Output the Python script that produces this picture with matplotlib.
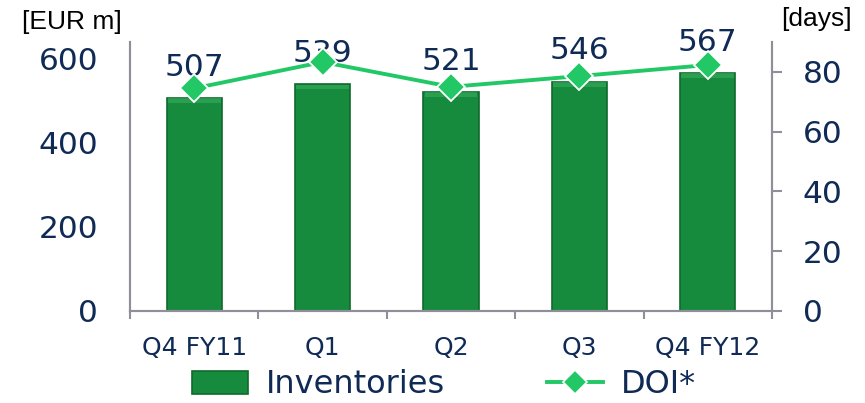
import matplotlib
matplotlib.use("Agg")
import matplotlib.pyplot as plt
import numpy as np
from matplotlib.lines import Line2D
from matplotlib.patches import Patch

categories = ["Q4 FY11", "Q1", "Q2", "Q3", "Q4 FY12"]
inventories = [507, 539, 521, 546, 567]
doi = [74.5, 83.3, 75.0, 78.6, 82.3]
left_ticks = [0, 200, 400, 600]
right_ticks = [0, 20, 40, 60, 80]

TEXT = "#0f2a55"
BAR = "#168a3d"
BAR_EDGE = "#0e6a2d"
BEVEL = "#3aae5e"
LINE = "#22c865"
SPINE = "#8e8f99"

fig = plt.figure(figsize=(8.65, 4.03), dpi=100)
ax = fig.add_axes([0.1503, 0.2283, 0.7422, 0.6675])
ax2 = ax.twinx()

x = np.arange(len(categories))
ax.bar(x, inventories, width=0.43, color=BAR, edgecolor=BAR_EDGE, linewidth=1.2, zorder=2)
# bevel strip at top of each bar
ax.bar(x, [11] * len(x), bottom=np.array(inventories) - 12, width=0.41,
       color=BEVEL, linewidth=0, alpha=0.6, zorder=3)

ax.set_xlim(-0.5, len(categories) - 0.5)
ax.set_ylim(0, 640)
ax2.set_ylim(0, 90)

ax2.plot(x, doi, color=LINE, lw=2.8, marker="D", markersize=14,
         markerfacecolor=LINE, markeredgecolor="white", markeredgewidth=1.3, zorder=5)
ax2.set_zorder(ax.get_zorder() + 1)
ax2.patch.set_visible(False)

for xi, v in zip(x, inventories):
    ax.annotate(str(v), (xi, v), xytext=(0, 22), textcoords="offset points",
                ha="center", va="center", fontsize=22.5, color=TEXT, zorder=10)

# axes styling
for a in (ax, ax2):
    a.spines["top"].set_visible(False)
    for s in ("left", "right", "bottom"):
        a.spines[s].set_color(SPINE)
        a.spines[s].set_linewidth(1.5)

ax.set_yticks(left_ticks)
ax.tick_params(axis="y", length=0, pad=23, labelsize=22.5, labelcolor=TEXT)
ax2.set_yticks(right_ticks)
ax2.tick_params(axis="y", length=7, width=1.5, color=SPINE, pad=15, labelsize=22.5, labelcolor=TEXT)

ax.set_xticks(x)
ax.set_xticklabels(categories)
ax.tick_params(axis="x", length=0, pad=18, labelsize=18, labelcolor=TEXT)
ax.set_xticks(np.arange(len(categories) + 1) - 0.5, minor=True)
ax.tick_params(axis="x", which="minor", length=6, width=1.5, color=SPINE, direction="out")

fig.text(0.026, 0.945, "[EUR m]", fontsize=19, family="Liberation Sans", color="black",
         ha="left", va="center")
fig.text(0.903, 0.952, "[days]", fontsize=19, family="Liberation Sans", color="black",
         ha="left", va="center")

handles = [Patch(facecolor=BAR, edgecolor=BAR_EDGE, linewidth=1.2),
           Line2D([], [], color=LINE, lw=2.8, marker="D", markersize=12,
                  markerfacecolor=LINE, markeredgecolor="white", markeredgewidth=1.2)]
leg = fig.legend(handles, ["Inventories", "DOI*"], loc="center", ncol=2,
                 bbox_to_anchor=(0.513, 0.045), frameon=False, fontsize=23,
                 handlelength=1.75, handleheight=0.72, handletextpad=0.55,
                 columnspacing=3.2, borderpad=0)
for t in leg.get_texts():
    t.set_color(TEXT)

fig.savefig("out.png", dpi=100)
